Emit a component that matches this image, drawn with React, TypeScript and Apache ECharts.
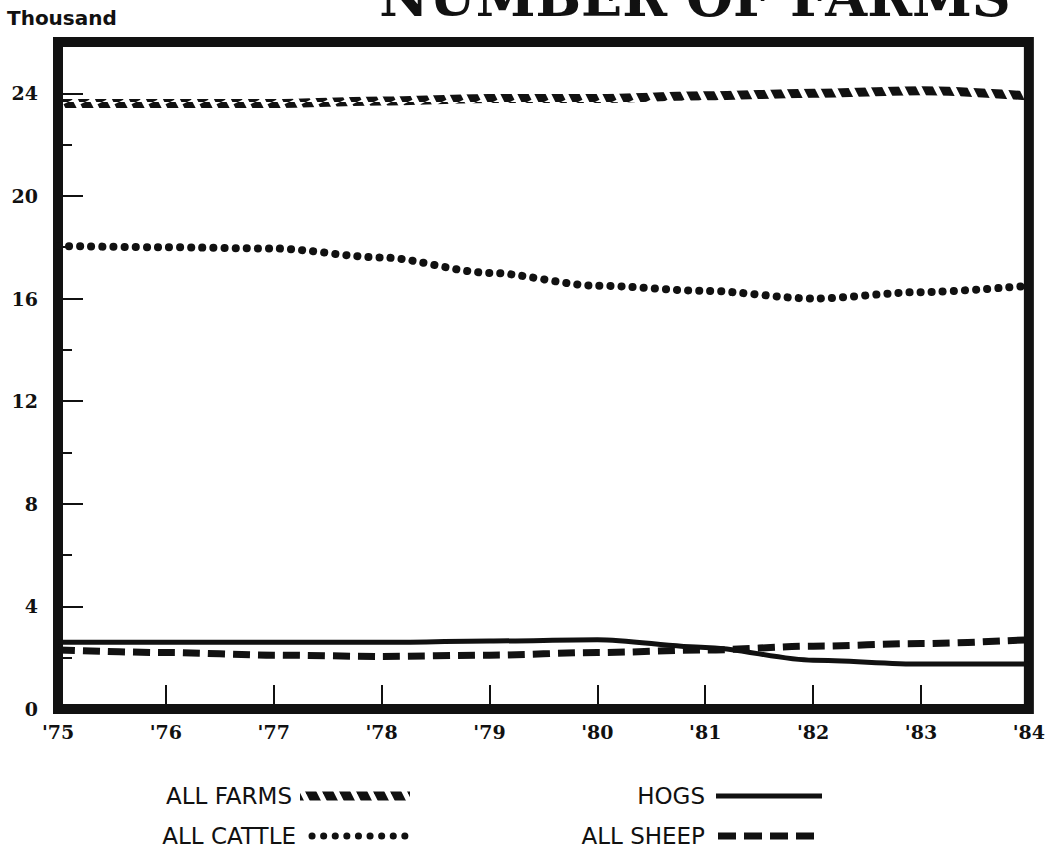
import React, { useEffect, useRef } from "react";
import * as echarts from "echarts";

const years = ["'75", "'76", "'77", "'78", "'79", "'80", "'81", "'82", "'83", "'84"];
const allFarms = [23.6, 23.6, 23.6, 23.7, 23.8, 23.8, 23.9, 24.0, 24.1, 23.9];
const allCattle = [18.05, 18.0, 17.95, 17.6, 17.0, 16.5, 16.3, 16.0, 16.25, 16.5];
const hogs = [2.6, 2.6, 2.6, 2.6, 2.65, 2.7, 2.4, 1.9, 1.75, 1.75];
const allSheep = [2.3, 2.2, 2.1, 2.05, 2.1, 2.2, 2.3, 2.45, 2.55, 2.7];

const INK = "#111";
const serif = "'DejaVu Serif', 'Liberation Serif', serif";
const sans = "'DejaVu Sans', 'Liberation Sans', sans-serif";

function makeHatch(): any {
  const p = 17;
  const h = 34;
  const c = document.createElement("canvas");
  c.width = p;
  c.height = h;
  const ctx = c.getContext("2d");
  if (!ctx) return INK;
  ctx.strokeStyle = INK;
  ctx.lineWidth = 10;
  for (const k of [-1, 0, 1]) {
    ctx.beginPath();
    ctx.moveTo(k * p, 0);
    ctx.lineTo(k * p + p, h);
    ctx.stroke();
  }
  return { image: c, repeat: "repeat" };
}

export default function App() {
  const ref = useRef<HTMLDivElement>(null);
  useEffect(() => {
    if (!ref.current) return;
    const chart = echarts.init(ref.current, null, { renderer: "svg" });
    const hatch = makeHatch();
    const legendText = (text: string, x: number, y: number) => ({
      type: "text",
      x,
      y,
      style: {
        text,
        fill: INK,
        font: `normal 23px ${sans}`,
        textAlign: "right",
        textVerticalAlign: "middle",
      },
    });
    const legendLine = (x1: number, x2: number, y: number, lineWidth: number, lineDash: any, stroke: any = INK, cap = "butt") => ({
      type: "line",
      shape: { x1, y1: y, x2, y2: y },
      style: { stroke, lineWidth, lineDash, lineCap: cap },
    });
    chart.setOption({
      animation: false,
      backgroundColor: "#fff",
      grid: {
        left: 58,
        right: 11,
        top: 42,
        bottom: 141,
        show: true,
        borderColor: INK,
        borderWidth: 10,
        backgroundColor: "transparent",
        containLabel: false,
      },
      xAxis: {
        type: "category",
        data: years,
        boundaryGap: false,
        axisLine: { show: false },
        axisTick: { show: true, inside: true, length: 24, lineStyle: { color: INK, width: 2 } },
        axisLabel: { margin: 13, color: INK, fontFamily: serif, fontWeight: "bold", fontSize: 19 },
        splitLine: { show: false },
      },
      yAxis: [
        {
          type: "value",
          min: 0,
          max: 26,
          interval: 4,
          axisLine: { show: false },
          axisTick: { show: true, inside: true, length: 25, lineStyle: { color: INK, width: 2 } },
          axisLabel: {
            margin: 20,
            color: INK,
            fontFamily: serif,
            fontWeight: "bold",
            fontSize: 19,
            formatter: (v: number) => (v % 4 === 0 ? String(v) : ""),
          },
          splitLine: { show: false },
        },
        {
          type: "value",
          position: "left",
          min: 0,
          max: 26,
          interval: 2,
          axisLine: { show: false },
          axisTick: { show: true, inside: true, length: 14, lineStyle: { color: INK, width: 2 } },
          axisLabel: { show: false },
          splitLine: { show: false },
        },
      ],
      series: [
        {
          name: "ALL FARMS",
          type: "line",
          data: allFarms,
          smooth: 0.3,
          smoothMonotone: "x",
          symbol: "none",
          lineStyle: { color: hatch, width: 9, cap: "butt" },
        },
        {
          name: "ALL CATTLE",
          type: "line",
          data: allCattle,
          smooth: 0.3,
          smoothMonotone: "x",
          symbol: "none",
          lineStyle: { color: INK, width: 8, type: [0.1, 11], cap: "round" },
        },
        {
          name: "HOGS",
          type: "line",
          data: hogs,
          smooth: 0.3,
          smoothMonotone: "x",
          symbol: "none",
          lineStyle: { color: INK, width: 5 },
        },
        {
          name: "ALL SHEEP",
          type: "line",
          data: allSheep,
          smooth: 0.3,
          smoothMonotone: "x",
          symbol: "none",
          lineStyle: { color: INK, width: 7, type: [17, 8], cap: "butt" },
        },
      ],
      graphic: [
        {
          type: "text",
          x: 695,
          y: 24,
          style: {
            text: "NUMBER OF FARMS",
            fill: INK,
            font: `bold 54px ${serif}`,
            textAlign: "center",
            textVerticalAlign: "bottom",
          },
        },
        {
          type: "text",
          x: 7,
          y: 18,
          style: {
            text: "Thousand",
            fill: INK,
            font: `bold 20px ${sans}`,
            textAlign: "left",
            textVerticalAlign: "middle",
          },
        },
        legendText("ALL FARMS", 292, 796),
        legendLine(300, 410, 796, 9, null, hatch),
        legendText("ALL CATTLE", 296, 836),
        legendLine(312, 415, 836, 7, [0.1, 11.5], INK, "round"),
        legendText("HOGS", 705, 796),
        legendLine(716, 822, 796, 5, null),
        legendText("ALL SHEEP", 705, 836),
        legendLine(718, 822, 836, 7, [18, 8]),
      ],
    });
    return () => chart.dispose();
  }, []);
  return (
    <div
      ref={ref}
      style={{ position: "fixed", left: 0, top: 0, width: 1048, height: 850, background: "#fff" }}
    />
  );
}
